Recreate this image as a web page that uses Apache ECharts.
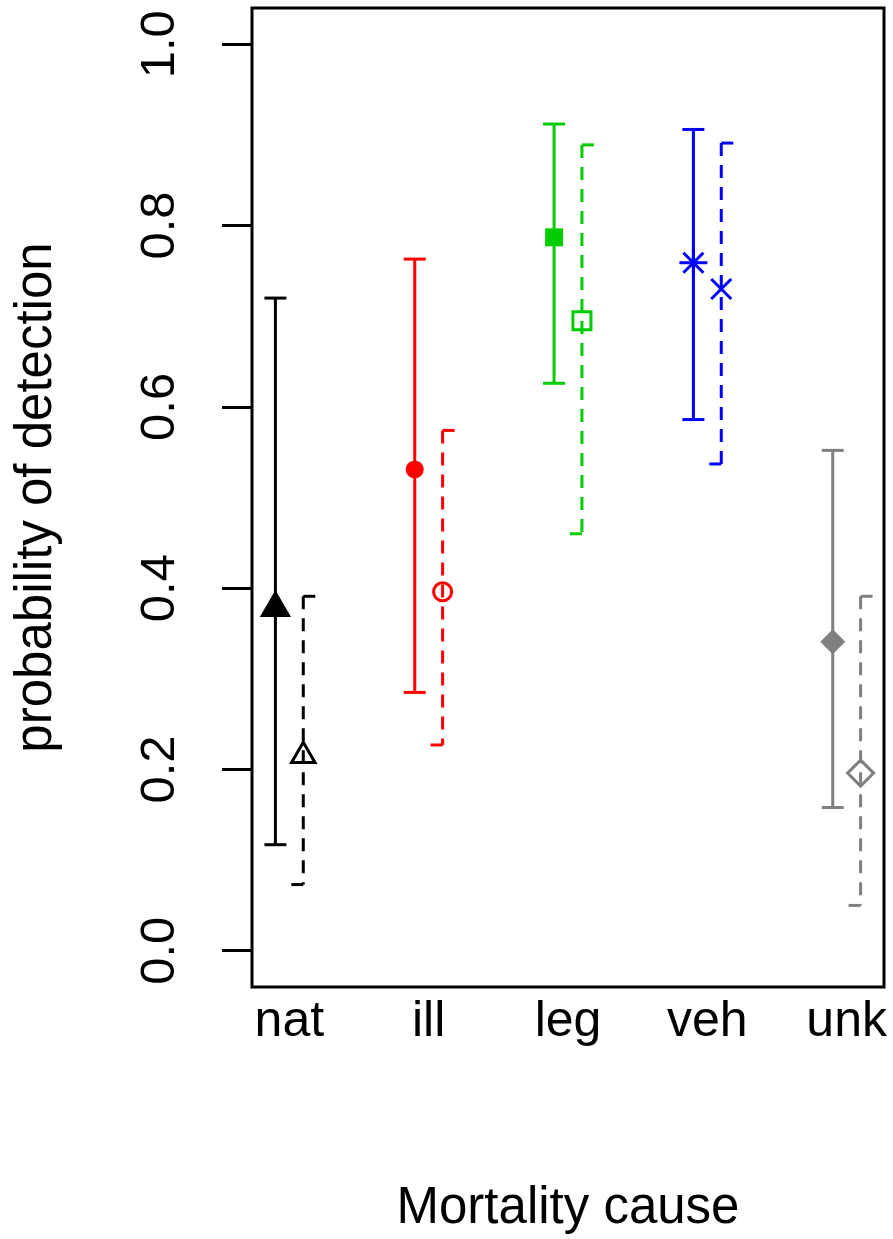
<!DOCTYPE html>
<html>
<head>
<meta charset="utf-8">
<script src="https://cdn.jsdelivr.net/npm/echarts@6/dist/echarts.min.js"></script>
<style>
html,body{margin:0;padding:0;background:#fff;}
#main{width:893px;height:1239px;}
</style>
</head>
<body>
<div id="main"></div>
<script>
// categories and colours
var categories = ['nat', 'ill', 'leg', 'veh', 'unk'];
var colors = ['#000000', '#ff0000', '#00cd00', '#0000ff', '#808080'];

// solid bars (filled markers)
var estSolid = [0.378, 0.531, 0.787, 0.759, 0.341];
var loSolid  = [0.117, 0.285, 0.626, 0.586, 0.158];
var hiSolid  = [0.720, 0.763, 0.912, 0.906, 0.552];

// dashed bars (open markers)
var estDash = [0.215, 0.396, 0.695, 0.730, 0.196];
var loDash  = [0.073, 0.227, 0.460, 0.537, 0.050];
var hiDash  = [0.391, 0.574, 0.889, 0.891, 0.391];

var yTicks = [0, 0.2, 0.4, 0.6, 0.8, 1.0];
var yTickLabels = ['0.0', '0.2', '0.4', '0.6', '0.8', '1.0'];
var xTicks = [1, 2, 3, 4, 5];

var solidMarks = ['triFill', 'circleFill', 'squareFill', 'asterisk', 'diamondFill'];
var dashMarks = ['triOpen', 'circleOpen', 'squareOpen', 'cross', 'diamondOpen'];

var FONT = '"Liberation Sans", Arial, sans-serif';
var LW = 3;

function buildData(est, lo, hi, offset){
    var out = [];
    for (var i = 0; i < est.length; i++) {
        out.push([xTicks[i] + offset, est[i], lo[i], hi[i], i]);
    }
    return out;
}

function marker(kind, cx, cy, col){
    var s = {stroke: col, lineWidth: LW, fill: 'none'};
    var f = {fill: col};
    switch (kind) {
        case 'triFill':
            var r = 18;
            return [{type: 'polygon', shape: {points: [[cx, cy - r], [cx + r * 0.866, cy + r / 2], [cx - r * 0.866, cy + r / 2]]}, style: f}];
        case 'triOpen':
            var r2 = 13.5;
            return [{type: 'polygon', shape: {points: [[cx, cy - r2], [cx + r2 * 0.866, cy + r2 / 2], [cx - r2 * 0.866, cy + r2 / 2]]}, style: s}];
        case 'circleFill':
            return [{type: 'circle', shape: {cx: cx, cy: cy, r: 9}, style: f}];
        case 'circleOpen':
            return [{type: 'circle', shape: {cx: cx, cy: cy, r: 9}, style: s}];
        case 'squareFill':
            return [{type: 'rect', shape: {x: cx - 9, y: cy - 9, width: 18, height: 18}, style: f}];
        case 'squareOpen':
            return [{type: 'rect', shape: {x: cx - 9, y: cy - 9, width: 18, height: 18}, style: s}];
        case 'diamondFill':
            return [{type: 'polygon', shape: {points: [[cx, cy - 12.5], [cx + 12.5, cy], [cx, cy + 12.5], [cx - 12.5, cy]]}, style: f}];
        case 'diamondOpen':
            return [{type: 'polygon', shape: {points: [[cx, cy - 13], [cx + 13, cy], [cx, cy + 13], [cx - 13, cy]]}, style: s}];
        case 'cross':
            return [
                {type: 'line', shape: {x1: cx - 10, y1: cy - 10, x2: cx + 10, y2: cy + 10}, style: s},
                {type: 'line', shape: {x1: cx - 10, y1: cy + 10, x2: cx + 10, y2: cy - 10}, style: s}
            ];
        case 'asterisk':
            return [
                {type: 'line', shape: {x1: cx - 14, y1: cy, x2: cx + 14, y2: cy}, style: s},
                {type: 'line', shape: {x1: cx, y1: cy - 14, x2: cx, y2: cy + 14}, style: s},
                {type: 'line', shape: {x1: cx - 10, y1: cy - 10, x2: cx + 10, y2: cy + 10}, style: s},
                {type: 'line', shape: {x1: cx - 10, y1: cy + 10, x2: cx + 10, y2: cy - 10}, style: s}
            ];
    }
    return [];
}

function makeRender(dashed, marks){
    return function(params, api){
        var i = api.value(4);
        var col = colors[i];
        var p = api.coord([api.value(0), api.value(1)]);
        var pl = api.coord([api.value(0), api.value(2)]);
        var ph = api.coord([api.value(0), api.value(3)]);
        var ls = {stroke: col, lineWidth: LW};
        var children = [];
        if (dashed) {
            children.push({type: 'line', shape: {x1: ph[0], y1: ph[1], x2: pl[0], y2: pl[1]},
                style: {stroke: col, lineWidth: LW, lineDash: [13, 9]}});
            children.push({type: 'line', shape: {x1: ph[0], y1: ph[1], x2: ph[0] + 12, y2: ph[1]}, style: ls});
            children.push({type: 'line', shape: {x1: pl[0] - 12, y1: pl[1], x2: pl[0], y2: pl[1]}, style: ls});
        } else {
            children.push({type: 'line', shape: {x1: ph[0], y1: ph[1], x2: pl[0], y2: pl[1]}, style: ls});
            children.push({type: 'line', shape: {x1: ph[0] - 11, y1: ph[1], x2: ph[0] + 11, y2: ph[1]}, style: ls});
            children.push({type: 'line', shape: {x1: pl[0] - 11, y1: pl[1], x2: pl[0] + 11, y2: pl[1]}, style: ls});
        }
        children = children.concat(marker(marks[i], p[0], p[1], col));
        return {type: 'group', children: children};
    };
}

var chart = echarts.init(document.getElementById('main'));
chart.setOption({
    backgroundColor: '#ffffff',
    animation: false,
    grid: {
        left: 252, top: 8, right: 9, bottom: 251,
        show: true, borderColor: '#000', borderWidth: LW, backgroundColor: 'transparent'
    },
    xAxis: {
        type: 'value', min: 0.732, max: 5.268,
        name: 'Mortality cause', nameLocation: 'middle', nameGap: 196,
        nameTextStyle: {fontFamily: FONT, fontSize: 51, color: '#000'},
        axisLine: {show: false}, axisTick: {show: false}, splitLine: {show: false},
        axisLabel: {
            customValues: xTicks, margin: 10,
            fontFamily: FONT, fontSize: 50, color: '#000',
            formatter: function(v){ return categories[Math.round(v) - 1] || ''; }
        }
    },
    yAxis: {
        type: 'value', min: -0.04, max: 1.04,
        name: 'probability of detection', nameLocation: 'middle', nameGap: 190, nameRotate: 90,
        nameTextStyle: {fontFamily: FONT, fontSize: 51, color: '#000'},
        axisLine: {show: false}, splitLine: {show: false},
        axisTick: {show: true, customValues: yTicks, length: 30, lineStyle: {color: '#000', width: LW}},
        axisLabel: {
            customValues: yTicks, rotate: 90, margin: 67,
            fontFamily: FONT, fontSize: 49, color: '#000',
            formatter: function(v){
                for (var k = 0; k < yTicks.length; k++) if (Math.abs(yTicks[k] - v) < 1e-6) return yTickLabels[k];
                return '';
            }
        }
    },
    series: [
        {type: 'custom', name: 'solid', renderItem: makeRender(false, solidMarks),
            data: buildData(estSolid, loSolid, hiSolid, -0.1), encode: {x: 0, y: 1}},
        {type: 'custom', name: 'dashed', renderItem: makeRender(true, dashMarks),
            data: buildData(estDash, loDash, hiDash, 0.1), encode: {x: 0, y: 1}}
    ]
});
</script>
</body>
</html>
